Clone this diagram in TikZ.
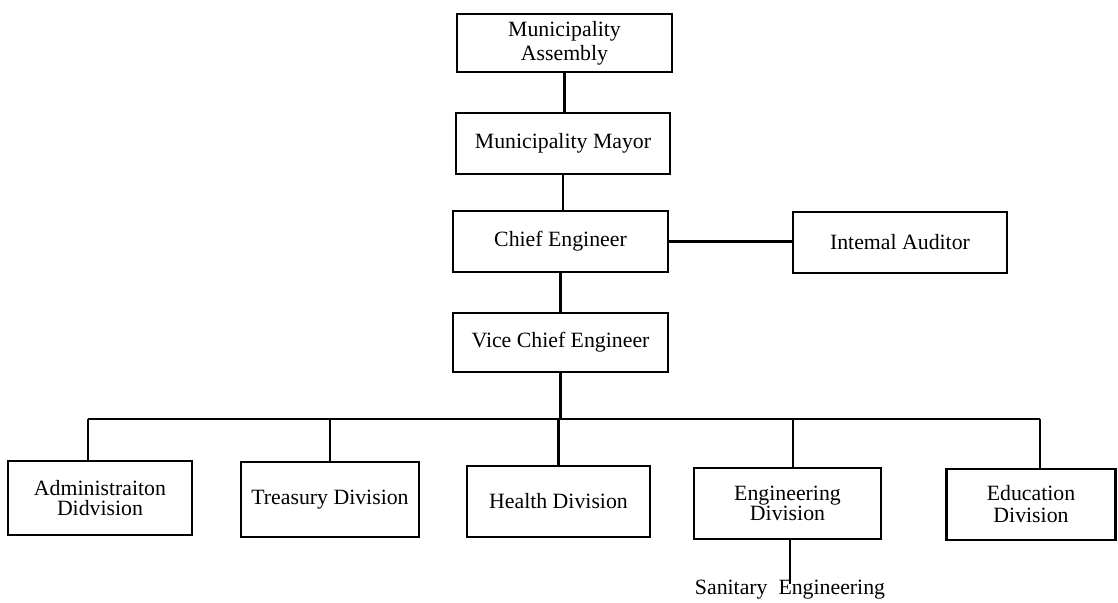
\documentclass[tikz,border=0pt]{standalone}
\usepackage{fontspec}
\setmainfont{Liberation Serif}
\begin{document}
\begin{tikzpicture}[x=0.5pt,y=-0.5pt,
  orgbox/.style={draw, line width=1.3pt, align=center, inner sep=0pt,
                 font=\fontsize{10.9}{12}\selectfont},
  tight/.style={font=\fontsize{10.9}{9.8}\selectfont},
  link/.style={line width=1.4pt}]
\useasboundingbox (0,0) rectangle (1118,603);

% upper chain of command
\node[orgbox, minimum width=107.5pt, minimum height=29pt]   (asm)   at (564.5,43)  {Municipality\\Assembly};
\node[orgbox, minimum width=107pt,   minimum height=30.5pt] (mayor) at (563,143.5) {Municipality Mayor};
\node[orgbox, minimum width=107.5pt, minimum height=30.5pt] (chief) at (560.5,241.5) {Chief Engineer};
\node[orgbox, minimum width=107pt,   minimum height=30.5pt] (aud)   at (900,242.5)  {Intemal Auditor};
\node[orgbox, minimum width=107.5pt, minimum height=29.5pt] (vice)  at (560.5,342.5) {Vice Chief Engineer};

% divisions
\node[orgbox, tight, minimum width=92pt, minimum height=37pt]   (adm) at (100,498)    {Administraiton\\Didvision};
\node[orgbox, minimum width=89pt,        minimum height=37.5pt] (tre) at (330,499.5)  {Treasury Division};
\node[orgbox, minimum width=91.5pt,      minimum height=35.5pt] (hea) at (558.5,501.5) {Health Division};
\node[orgbox, tight, minimum width=93.5pt, minimum height=35.5pt] (eng) at (787.5,503.5) {Engineering\\Division};
\node[orgbox, minimum width=84.5pt,      minimum height=35.5pt, font=\fontsize{10.9}{11}\selectfont] (edu) at (1031,504.5) {Education\\Division};

\node[inner sep=0pt, font=\fontsize{10.9}{12}\selectfont] (san) at (790,590) {Sanitary\ \ Engineering};

% vertical links
\draw[link] (asm.south)   -- (asm.south |- mayor.north);
\draw[link] (mayor.south) -- (mayor.south |- chief.north);
\draw[link] (chief.south) -- (chief.south |- vice.north);
\draw[link] (chief.east)  -- (chief.east -| aud.west);

% distribution bus to the divisions
\coordinate (j1) at (88,419);
\coordinate (j2) at (330,419);
\coordinate (j4) at (793,419);
\coordinate (j5) at (1040,419);
\draw[link] (j1) -- (j5);
\draw[link] (vice.south) -- (vice.south |- j1);
\draw[link] (j1) -- (j1 |- adm.north);
\draw[link] (j2) -- (j2 |- tre.north);
\draw[link] (hea.north |- j1) -- (hea.north);
\draw[link] (j4) -- (j4 |- eng.north);
\draw[link] (j5) -- (j5 |- edu.north);

% sub-unit under engineering
\draw[link] (eng.south -| san.north) -- ([yshift=-2pt]san.north);
\end{tikzpicture}
\end{document}
